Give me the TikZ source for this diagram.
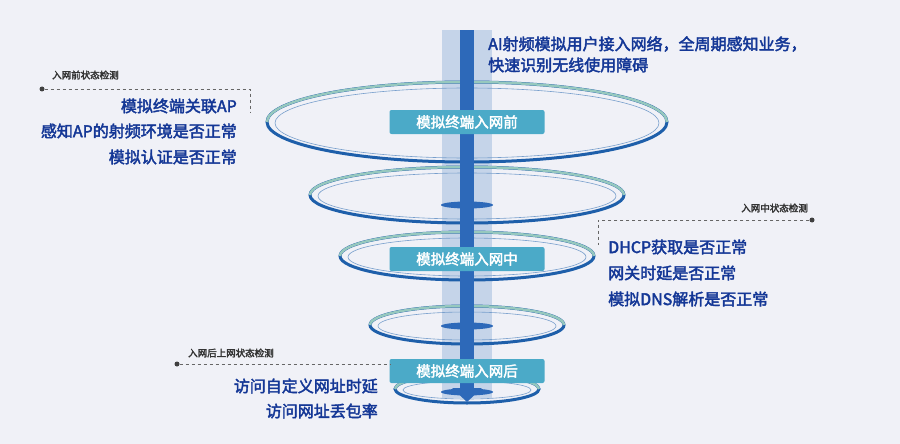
\documentclass[tikz,border=0pt]{standalone}
\usepackage{fontspec}
\setmainfont{Noto Sans CJK SC}[BoldFont={Noto Sans CJK SC},BoldFeatures={FakeBold=2.5}]
\usetikzlibrary{positioning,arrows.meta}
\definecolor{bgColor}{RGB}{240,241,247}
\definecolor{ringColor}{RGB}{30,95,170}
\definecolor{ringTop}{RGB}{150,200,190}
\definecolor{beamColor}{RGB}{180,200,228}
\definecolor{coreColor}{RGB}{45,105,185}
\definecolor{boxColor}{RGB}{75,170,200}
\definecolor{txtColor}{RGB}{20,55,150}
\tikzset{
  ringline/.style={line width=3pt,color=ringColor},
  ringtop/.style={line width=2.5pt,color=ringTop},
  ringinner/.style={line width=0.6pt,color=ringColor!60},
  stagebox/.style={fill=boxColor,text=white,font=\bfseries\fontsize{14.5}{16}\selectfont,
    minimum width=155pt,minimum height=24pt,rounded corners=2pt,inner sep=0pt},
  itemtext/.style={text=txtColor,font=\bfseries\fontsize{16}{18}\selectfont,inner sep=0pt},
  tagtext/.style={text=black!80,font=\bfseries\fontsize{9.5}{10}\selectfont,inner sep=0pt},
  dashline/.style={dashed,thick,color=black!60},
  enddot/.style={circle,fill=black!75,inner sep=0pt,minimum size=5pt}
}
\newcommand{\ring}[4]{% x, y, rx, ry
  \draw[ringline] (#1,#2) ellipse ({#3} and {#4});
  \draw[ringtop] (#1-#3,#2) arc[start angle=180,end angle=360,x radius=#3,y radius=#4];
  \draw[ringinner] (#1,#2+1) ellipse ({#3-8} and {#4-5});
}
\begin{document}
\begin{tikzpicture}[x=1pt,y=-1pt]
\fill[bgColor] (0,0) rectangle (900,444);
\useasboundingbox (0,0) rectangle (900,444);
% beam
\fill[beamColor,opacity=0.7] (442,30) rectangle (492,398);
% rings
\ring{467}{122}{200}{40}
\ring{467}{195}{157}{28}
\ring{467}{256}{127}{24}
\ring{467}{325}{97}{19}
\ring{467}{389}{72}{14}
% small disks
\foreach \y in {205,266,326,392}
  \fill[coreColor] (467,\y) ellipse (26 and 3.5);
% core arrow
\fill[coreColor] (460,30) rectangle (474,388);
\fill[coreColor] (452,388) -- (482,388) -- (467,402) -- cycle;
% stages
\node[stagebox] (pre) at (467,122) {模拟终端入网前};
\node[stagebox] (mid) at (467,259) {模拟终端入网中};
\node[stagebox] (post) at (467,371) {模拟终端入网后};
% top text
\node[itemtext,anchor=west] (intro1) at (488,44) {AI射频模拟用户接入网络，全周期感知业务，};
\node[itemtext,anchor=west] (intro2) at (488,65) {快速识别无线使用障碍};
% before
\node[tagtext,anchor=west] (preTag) at (52,75) {入网前状态检测};
\node[enddot] (preDot) at (42,89) {};
\coordinate (preEnd) at (250,112);
\draw[dashline] (preDot) -| (preEnd);
\node[itemtext,anchor=east] (pre1) at (237,106) {模拟终端关联AP};
\node[itemtext,anchor=east] (pre2) at (237,131) {感知AP的射频环境是否正常};
\node[itemtext,anchor=east] (pre3) at (237,157) {模拟认证是否正常};
% during
\node[tagtext,anchor=east] (midTag) at (808,208) {入网中状态检测};
\node[enddot] (midDot) at (812,220) {};
\coordinate (midEnd) at (598,245);
\draw[dashline] (midDot) -| (midEnd);
\node[itemtext,anchor=west] (mid1) at (608,247) {DHCP获取是否正常};
\node[itemtext,anchor=west] (mid2) at (608,273) {网关时延是否正常};
\node[itemtext,anchor=west] (mid3) at (608,299) {模拟DNS解析是否正常};
% after
\node[tagtext,anchor=west] (postTag) at (188,353) {入网后上网状态检测};
\node[enddot] (postDot) at (177,364) {};
\coordinate (postEnd) at (390,364);
\draw[dashline] (postDot) -- (postEnd);
\node[itemtext,anchor=east] (post1) at (378,386) {访问自定义网址时延};
\node[itemtext,anchor=east] (post2) at (378,411) {访问网址丢包率};
\end{tikzpicture}
\end{document}
